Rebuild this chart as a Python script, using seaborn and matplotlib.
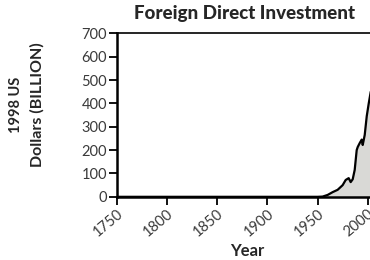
import numpy as np
import pandas as pd
import matplotlib
matplotlib.use("Agg")
import matplotlib.pyplot as plt
import seaborn as sns

# values (billions of 1998 US dollars)
years = [1750, 1800, 1850, 1900, 1950, 1955, 1960, 1965, 1970, 1975, 1978, 1981,
         1983, 1985, 1987, 1989, 1990, 1992, 1994, 1995, 1997, 1999, 2001, 2003]
fdi = [0, 0, 0, 0, 0, 1, 8, 20, 30, 50, 72, 80,
       63, 75, 115, 200, 213, 230, 245, 222, 265, 345, 400, 450]
yticks = [0, 100, 200, 300, 400, 500, 600, 700]
xticks = [1750, 1800, 1850, 1900, 1950, 2000]

df = pd.DataFrame({"Year": years, "FDI": fdi})

sns.set_theme(style="white")
plt.rcParams['font.family'] = ['Lato', 'DejaVu Sans']

fig = plt.figure(figsize=(3.7, 2.6), dpi=100)
ax = fig.add_axes([0.316, 0.243, 0.705, 0.629])

ax.fill_between(df["Year"], df["FDI"], color="#d9d9d6", zorder=1)
sns.lineplot(data=df, x="Year", y="FDI", color="black", lw=1.6, ax=ax, zorder=2)

ax.set_xlim(1750, 2010)
ax.set_ylim(0, 700)
ax.set_yticks(yticks)
ax.set_xticks(xticks)
ax.set_xticklabels([str(t) for t in xticks], rotation=40, ha="right",
                   rotation_mode="anchor", fontsize=10.5, color="#3a3a3a")
ax.set_yticklabels([str(t) for t in yticks], fontsize=10.5, color="#3a3a3a")
ax.tick_params(axis="both", direction="out", length=6, width=1.3, color="black",
               left=True, bottom=True, pad=1)

for s in ["left", "bottom"]:
    ax.spines[s].set_linewidth(1.8)
    ax.spines[s].set_color("black")
ax.spines["top"].set_linewidth(1.2)
ax.spines["top"].set_color("black")
ax.spines["right"].set_visible(False)

ax.set_xlabel("Year", fontsize=12, fontweight="bold", labelpad=3)
ax.set_ylabel("")
fig.text(0.042, 0.596, "1998 US", rotation=90, ha="center", va="center",
         fontsize=10.5, fontweight="bold")
fig.text(0.10, 0.596, "Dollars (BILLION)", rotation=90, ha="center", va="center",
         fontsize=11.5, fontweight="bold")
fig.text(0.66, 0.95, "Foreign Direct Investment", ha="center", va="center",
         fontsize=13.5, fontweight="black")

fig.savefig("out.png", dpi=100)
